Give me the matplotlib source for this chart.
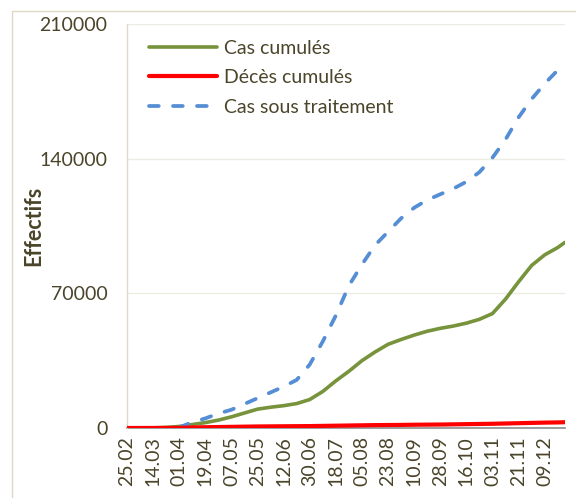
import matplotlib
matplotlib.use("Agg")
import matplotlib.pyplot as plt
import matplotlib.patches as mpatches
import pandas as pd
import numpy as np

# ---- data ----
dates = ["2020-02-25", "2020-03-05", "2020-03-14", "2020-03-23", "2020-04-01",
         "2020-04-10", "2020-04-19", "2020-04-28", "2020-05-07", "2020-05-16",
         "2020-05-25", "2020-06-03", "2020-06-12", "2020-06-21", "2020-06-30",
         "2020-07-09", "2020-07-18", "2020-07-27", "2020-08-05", "2020-08-14",
         "2020-08-23", "2020-09-01", "2020-09-10", "2020-09-19", "2020-09-28",
         "2020-10-07", "2020-10-16", "2020-10-25", "2020-11-03", "2020-11-12",
         "2020-11-21", "2020-11-30", "2020-12-09", "2020-12-18", "2020-12-23"]

cas_cumules = [0, 0, 50, 300, 800, 1800, 2800, 4100, 5800, 7800,
               9800, 10800, 11600, 12700, 14800, 19000, 24500, 29500, 35000, 39500,
               43500, 46000, 48300, 50300, 51800, 53000, 54500, 56500, 59500, 67000,
               76000, 84500, 90000, 93800, 96500]

deces_cumules = [0, 10, 20, 50, 100, 250, 400, 500, 600, 700,
                 800, 850, 900, 950, 1000, 1100, 1200, 1300, 1400, 1500,
                 1550, 1600, 1700, 1750, 1800, 1900, 2000, 2100, 2200, 2350,
                 2500, 2650, 2800, 2900, 3000]

cas_traitement = [np.nan, np.nan, np.nan, np.nan, 300, 3000, 5000, 7500, 9500, 12500,
                  15500, 18500, 21500, 25000, 33000, 45000, 58500, 74000, 85000, 95000,
                  102000, 109000, 114500, 118500, 121500, 124400, 128000, 133000, 140500, 150000,
                  161500, 171000, 179000, 186000, 190000]

tick_labels = ["25.02", "14.03", "01.04", "19.04", "07.05", "25.05", "12.06", "30.06",
               "18.07", "05.08", "23.08", "10.09", "28.09", "16.10", "03.11", "21.11", "09.12"]
yticks = [0, 70000, 140000, 210000]

series_names = ["Cas cumulés", "Décès cumulés", "Cas sous traitement"]

# ---- styling ----
TXT = "#4a452a"
plt.rcParams['font.family'] = ['Lato', 'DejaVu Sans']

x = pd.to_datetime(dates)
tick_dates = [pd.Timestamp(f"2020-{t[3:5]}-{t[0:2]}") for t in tick_labels]

fig = plt.figure(figsize=(5.76, 4.98), dpi=100)
# outer chart border
fig.patches.append(mpatches.Rectangle((12/576, -0.05), 1.2, 1 - 11/498 + 0.05,
                                      transform=fig.transFigure, fill=False,
                                      edgecolor="#ddd9c3", linewidth=1.0))

ax = fig.add_axes([127/576, 1 - 428/498, (565 - 127)/576, (428 - 24)/498])

ax.plot(x, cas_cumules, color="#77933c", lw=2.6, label=series_names[0],
        solid_capstyle="round", solid_joinstyle="round", zorder=3)
ax.plot(x, deces_cumules, color="#ff0000", lw=3.0, label=series_names[1],
        solid_capstyle="round", zorder=4)
ax.plot(x, cas_traitement, color="#558ed5", lw=2.7, label=series_names[2],
        dashes=(2.6, 3.8), dash_capstyle="round", zorder=3)

ax.set_ylim(0, 210000)
ax.set_yticks(yticks)
ax.set_yticklabels([str(v) for v in yticks])
ax.set_xlim(x[0], x[-1])
ax.set_xticks(tick_dates)
ax.set_xticklabels(tick_labels, rotation=90)

ax.grid(axis="y", color="#eeece1", lw=1.0, zorder=0)
ax.set_axisbelow(True)
for s in ["top", "right"]:
    ax.spines[s].set_visible(False)
ax.spines["left"].set_color("#ddd9c3")
ax.spines["left"].set_linewidth(1.0)
ax.spines["bottom"].set_color("#8c8c8c")
ax.spines["bottom"].set_linewidth(1.2)
ax.spines["bottom"].set_zorder(2)

ax.tick_params(axis="both", length=0, labelsize=14, labelcolor=TXT)
ax.tick_params(axis="y", pad=14)
ax.tick_params(axis="x", pad=6)

ax.set_ylabel("Effectifs", fontsize=15.5, fontweight="bold", color=TXT)
ax.yaxis.set_label_coords(-0.19, 0.5)

leg = ax.legend(loc="upper left", frameon=False, fontsize=14, handlelength=3.5,
                handletextpad=0.35, labelspacing=0.65, borderaxespad=0.3,
                bbox_to_anchor=(0.02, 0.995))
for t in leg.get_texts():
    t.set_color(TXT)

fig.savefig("out.png", dpi=100)
